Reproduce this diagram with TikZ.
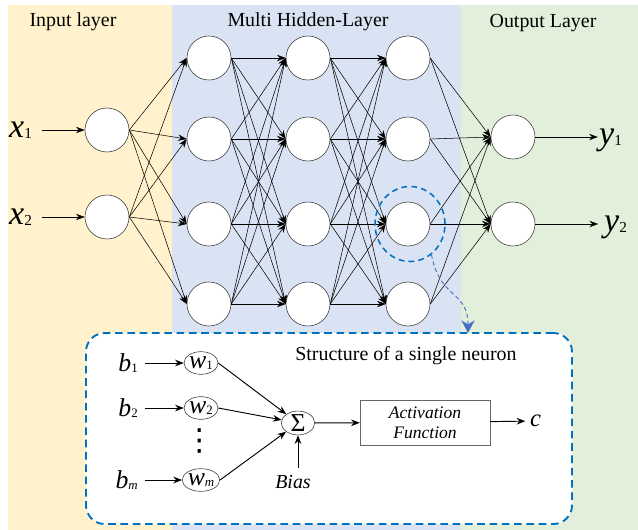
\documentclass[tikz,border=0pt]{standalone}
\usepackage{fontspec}
\setmainfont{Liberation Serif}
\newfontfamily\symbolfont{DejaVu Sans}
\usepackage{tikz}
\usetikzlibrary{positioning, shapes.geometric, arrows.meta}

\definecolor{inputbg}{RGB}{255,242,204}
\definecolor{hiddenbg}{RGB}{218,227,243}
\definecolor{outputbg}{RGB}{226,239,218}
\definecolor{zoomcolor}{RGB}{0,112,192}
\definecolor{pointercolor}{RGB}{68,114,196}
\definecolor{nodeborder}{RGB}{64,64,64}

% italic variable with a small upright index
\newcommand{\bigvar}[2]{{\fontsize{29}{29}\selectfont\itshape #1}\raisebox{-1pt}{\fontsize{13}{13}\selectfont #2}}
\newcommand{\smallvar}[2]{{\fontsize{22}{22}\selectfont\itshape #1}\raisebox{-1pt}{\fontsize{11}{11}\selectfont #2}}

\begin{document}
\begin{tikzpicture}[
    x=0.03cm, y=-0.03cm,
    font=\fontsize{17}{20}\selectfont,
    arrow/.style={-{Stealth[length=2.6mm, width=1.9mm]}, line width=0.45pt},
    flow/.style={-{Stealth[length=2.6mm, width=2mm]}, line width=0.8pt},
    neuron/.style={circle, draw=nodeborder, fill=white, minimum size=1.32cm, inner sep=0pt, line width=0.5pt},
    weight/.style={ellipse, draw=nodeborder, fill=white, minimum width=1.02cm, minimum height=0.68cm, inner sep=0pt, line width=0.5pt},
    varlabel/.style={inner sep=0pt},
    layertitle/.style={anchor=base}
]

\useasboundingbox (0,0) rectangle (638,530);

%% LAYER PANELS %%
\fill[inputbg] (8,5) rectangle (172,530);
\fill[hiddenbg] (172,5) rectangle (461,530);
\fill[outputbg] (461,5) rectangle (638,530);

\node (input_title) [layertitle] at (73,26) {Input layer};
\node (hidden_title) [layertitle] at (308,26) {Multi Hidden-Layer};
\node (output_title) [layertitle] at (543,27) {Output Layer};

%% NEURONS %%
\node (in1) [neuron] at (107,130) {};
\node (in2) [neuron] at (107,217) {};

\foreach \l/\x in {1/209, 2/308, 3/408}
    \foreach \i/\y in {1/58, 2/139, 3/224, 4/304}
        \node (h\l_\i) [neuron] at (\x,\y) {};

\node (out1) [neuron] at (513,137) {};
\node (out2) [neuron] at (513,224) {};

%% CONNECTIONS %%
\foreach \i in {1,2}
    \foreach \j in {1,...,4}
        \draw [arrow] (in\i.east) -- (h1_\j.west);

\foreach \i in {1,...,4}
    \foreach \j in {1,...,4} {
        \draw [arrow] (h1_\i.east) -- (h2_\j.west);
        \draw [arrow] (h2_\i.east) -- (h3_\j.west);
    }

\foreach \i in {1,...,4}
    \foreach \j in {1,2}
        \draw [arrow] (h3_\i.east) -- (out\j.west);

%% INPUTS AND OUTPUTS %%
\node (x1) [varlabel, anchor=west] at (9,130) {\bigvar{x}{1}};
\node (x2) [varlabel, anchor=west] at (9,217) {\bigvar{x}{2}};
\draw [arrow, shorten <=3mm] (x1.east |- in1) -- (in1);
\draw [arrow, shorten <=3mm] (x2.east |- in2) -- (in2);

\node (y1) [varlabel, anchor=base west] at (599,144) {\bigvar{y}{1}};
\node (y2) [varlabel, anchor=base west] at (604,231) {\bigvar{y}{2}};
\draw [arrow, shorten >=1pt] (out1) -- (out1 -| y1.west);
\draw [arrow, shorten >=5pt] (out2) -- (out2 -| y2.west);

%% ZOOMED NEURON %%
\node (focus) [ellipse, draw=zoomcolor, line width=1.3pt, dash pattern=on 5pt off 3.5pt,
    minimum width=2.1cm, minimum height=2.25cm] at (410,224) {};

\node (neuron_box) [
    rectangle,
    rounded corners=16pt,
    draw=zoomcolor,
    fill=white,
    line width=1.6pt,
    dash pattern=on 6.5pt off 4pt,
    minimum width=14.58cm,
    minimum height=5.73cm
] at (329,428.5) {};

\coordinate (box_entry) at (468,333);
\draw [pointercolor, line width=0.8pt, dash pattern=on 3.5pt off 2.5pt,
    -{Stealth[length=3.8mm, width=4mm]}]
    (focus.-55) .. controls (440,300) and (468,290) .. (box_entry);

\node (struct_title) [anchor=base] at (406,360) {Structure of a single neuron};

\node (w1) [weight] at (201,363) {\smallvar{w}{1}};
\node (w2) [weight] at (201,408) {\smallvar{w}{2}};
\node (wm) [weight] at (201,480) {\smallvar{w}{\itshape m}};
\node (dots) [inner sep=0pt, font=\fontsize{26}{26}\symbolfont] at (200,441) {⋮};

\node (b1) [varlabel, anchor=east] at (138,363) {\smallvar{b}{1}};
\node (b2) [varlabel, anchor=east] at (138,408) {\smallvar{b}{2}};
\node (bm) [varlabel, anchor=east] at (138,480) {\smallvar{b}{\itshape m}};

\draw [flow, shorten <=6pt] (b1) -- (w1);
\draw [flow, shorten <=6pt] (b2) -- (w2);
\draw [flow, shorten <=6pt] (bm) -- (wm);

\node (sum) [weight, minimum width=1.0cm, minimum height=0.66cm] at (298,423) {\fontsize{22}{22}\selectfont Σ};

\draw [flow] (w1.east) -- (sum);
\draw [flow] (w2.east) -- (sum);
\draw [flow] (wm.east) -- (sum);

\node (bias) [anchor=base, font=\fontsize{17}{17}\selectfont\itshape] at (293,488) {Bias};
\draw [flow, shorten <=2pt] (bias.north -| sum) -- (sum);

\node (activation) [
    rectangle,
    draw=gray!80!black,
    fill=white,
    minimum width=3.9cm,
    minimum height=1.35cm,
    align=center,
    font=\fontsize{15}{17}\selectfont\itshape
] at (425,422.5) {Activation\\Function};

\draw [flow] (sum) -- (activation);

\node (c_out) [varlabel, anchor=west, font=\fontsize{21}{21}\selectfont\itshape] at (530,421) {c};
\draw [flow, shorten >=4pt] (activation) -- (c_out);

\end{tikzpicture}
\end{document}
